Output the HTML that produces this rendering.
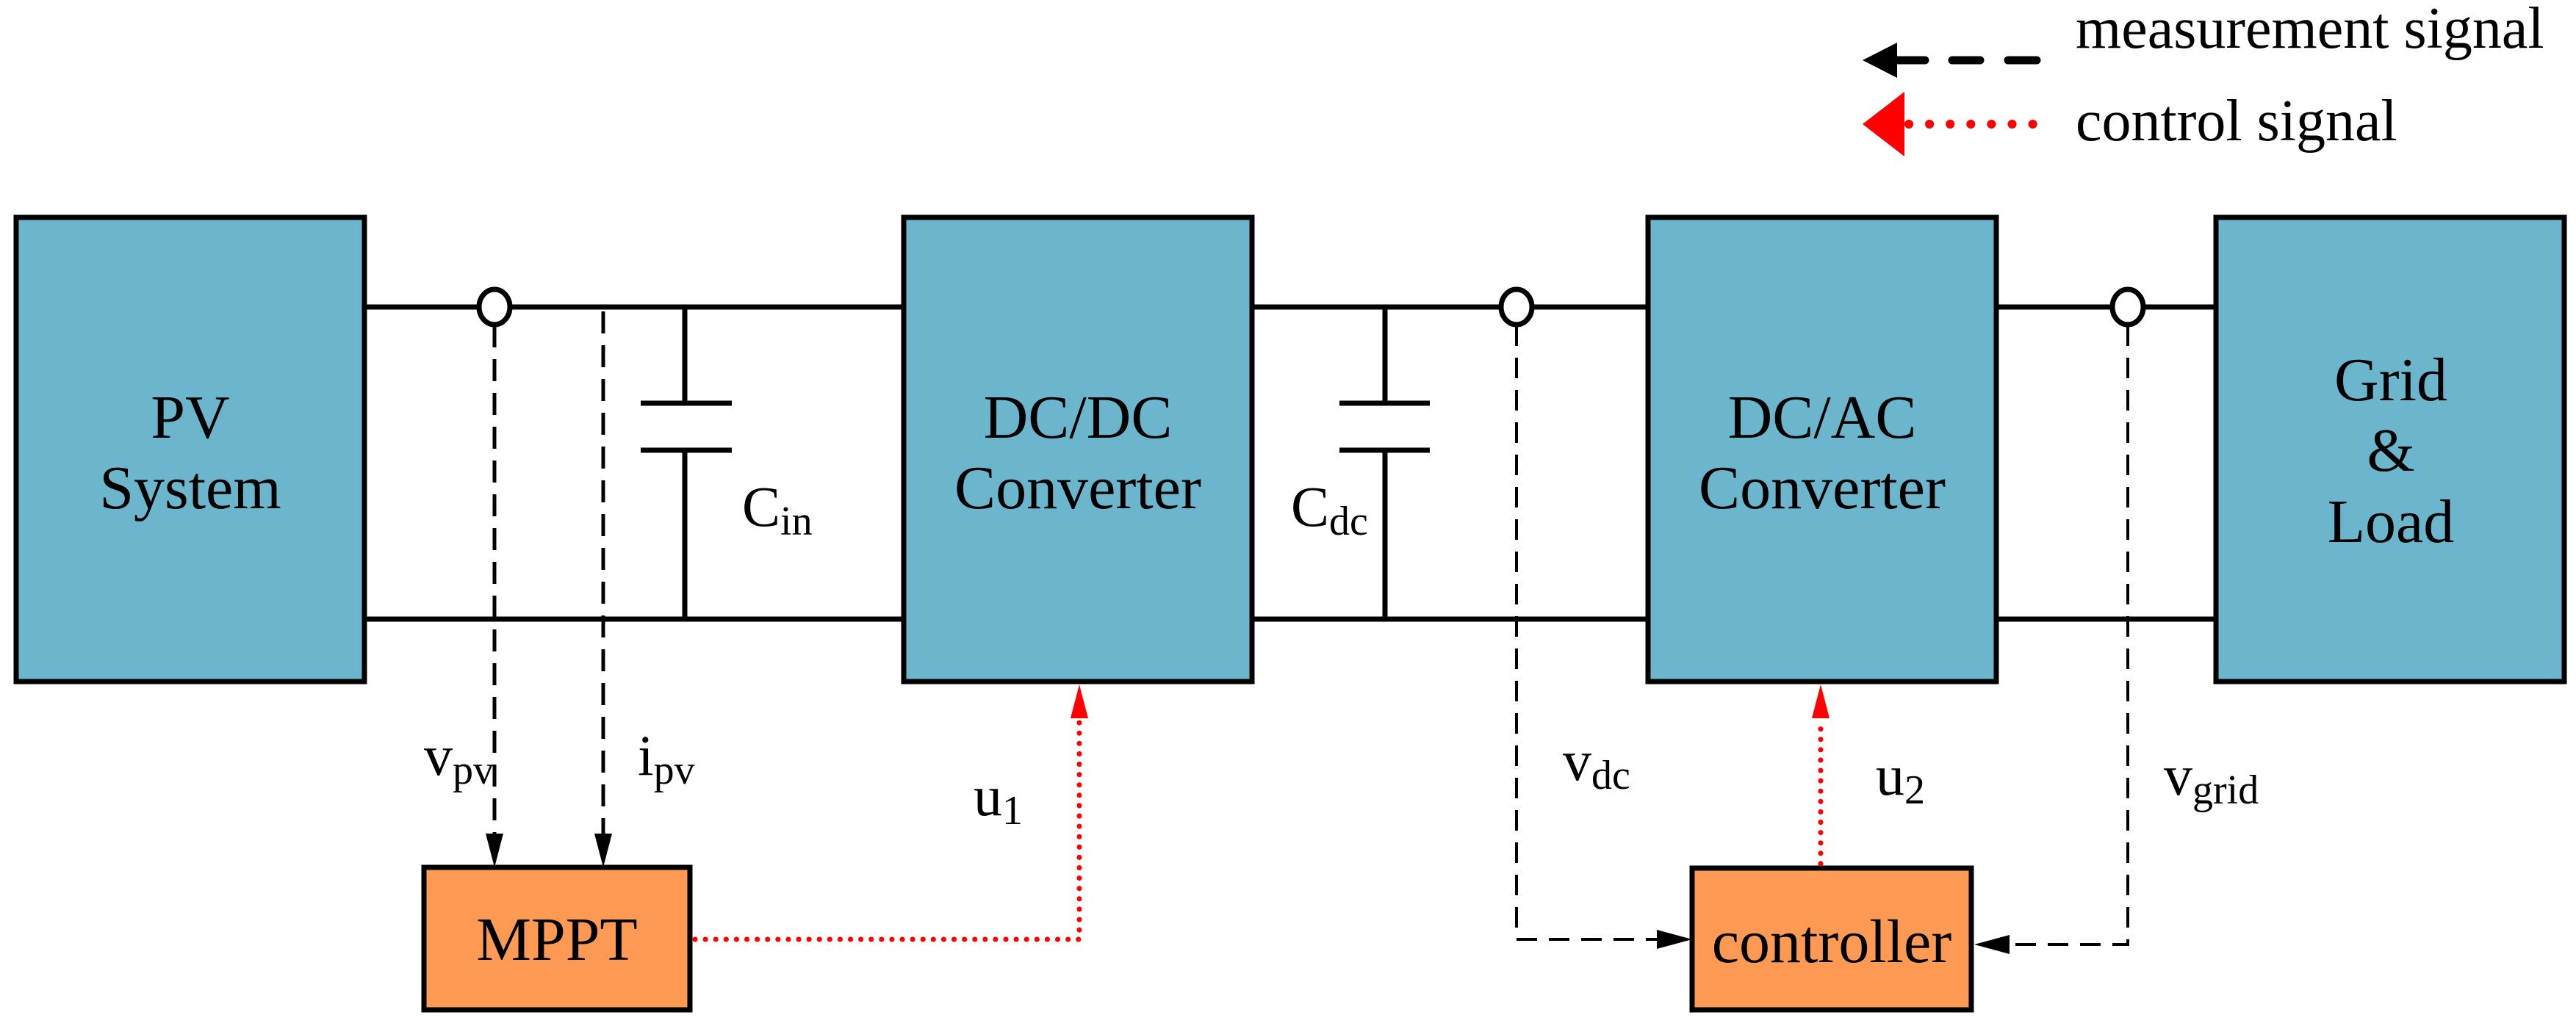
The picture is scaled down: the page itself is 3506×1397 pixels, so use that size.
<!DOCTYPE html>
<html><head><style>
html,body{margin:0;padding:0;background:#fff;}
svg{display:block;}
svg text, svg tspan{font-family:"Liberation Serif","DejaVu Serif",serif !important;}
</style></head><body>
<svg width="3506" height="1397" viewBox="0 0 3506 1397" xmlns="http://www.w3.org/2000/svg" font-family="'Liberation Serif', 'DejaVu Serif', serif">
<!-- wires -->
<g stroke="#000" stroke-width="7" fill="none">
<line x1="496" y1="418" x2="1230" y2="418"/>
<line x1="496" y1="843" x2="1230" y2="843"/>
<line x1="1704" y1="418" x2="2243" y2="418"/>
<line x1="1704" y1="843" x2="2243" y2="843"/>
<line x1="2717" y1="418" x2="3016" y2="418"/>
<line x1="2717" y1="843" x2="3016" y2="843"/>
<line x1="932" y1="418" x2="932" y2="549"/>
<line x1="932" y1="613" x2="932" y2="843"/>
<line x1="872" y1="549" x2="996" y2="549"/>
<line x1="872" y1="613" x2="996" y2="613"/>
<line x1="1885" y1="418" x2="1885" y2="549"/>
<line x1="1885" y1="613" x2="1885" y2="843"/>
<line x1="1823" y1="549" x2="1946" y2="549"/>
<line x1="1823" y1="613" x2="1946" y2="613"/>
</g>
<!-- boxes -->
<g stroke="#000" stroke-width="7">
<rect x="22" y="296" width="474" height="632" fill="#6BB6CC"/>
<rect x="1230" y="296" width="474" height="632" fill="#6BB6CC"/>
<rect x="2243" y="296" width="474" height="632" fill="#6BB6CC"/>
<rect x="3016" y="296" width="474" height="632" fill="#6BB6CC"/>
<rect x="577" y="1181" width="362" height="194" fill="#FF9A55"/>
<rect x="2303" y="1182" width="380" height="193" fill="#FF9A55"/>
</g>
<!-- measurement dashed -->
<g stroke="#000" fill="none">
<line x1="673" y1="443" x2="673" y2="1135" stroke-width="5" stroke-dasharray="30,16"/>
<line x1="821" y1="424" x2="821" y2="1135" stroke-width="5" stroke-dasharray="30,16"/>
<polyline points="2064,443 2064,1279 2255,1279" stroke-width="4" stroke-dasharray="28,16"/>
<polyline points="2896,443 2896,1286 2735,1286" stroke-width="4" stroke-dasharray="28,16"/>
</g>
<g fill="#000">
<polygon points="661,1135 685,1135 673,1181"/>
<polygon points="809,1135 833,1135 821,1181"/>
<polygon points="2255,1266 2255,1292 2303,1279"/>
<polygon points="2735,1273 2735,1299 2687,1286"/>
</g>
<!-- control dotted -->
<g stroke="#f00" fill="none" stroke-width="7" stroke-linecap="round" stroke-dasharray="0.1,14">
<polyline points="946,1279 1469,1279 1469,980"/>
<line x1="2478" y1="1176" x2="2478" y2="980"/>
</g>
<g fill="#f00">
<polygon points="1457,978 1481,978 1469,932"/>
<polygon points="2466,978 2490,978 2478,932"/>
</g>
<!-- nodes -->
<g stroke="#000" stroke-width="7" fill="#fff">
<ellipse cx="673" cy="418" rx="21" ry="24"/>
<ellipse cx="2064" cy="418" rx="21" ry="24"/>
<ellipse cx="2896" cy="418" rx="21" ry="24"/>
</g>
<!-- box labels -->
<g font-size="84" text-anchor="middle" fill="#000">
<text x="259" y="596">PV</text>
<text x="259" y="692">System</text>
<text x="1467" y="596">DC/DC</text>
<text x="1467" y="692">Converter</text>
<text x="2480" y="596">DC/AC</text>
<text x="2480" y="692">Converter</text>
<text x="3254" y="545">Grid</text>
<text x="3254" y="641">&amp;</text>
<text x="3254" y="738">Load</text>
<text x="758" y="1307">MPPT</text>
<text x="2493" y="1310">controller</text>
</g>
<!-- signal labels -->
<g font-size="78" fill="#000">
<text x="1010" y="716">C<tspan font-size="56" dy="12">in</tspan></text>
<text x="1757" y="716">C<tspan font-size="56" dy="12">dc</tspan></text>
<text x="577" y="1055">v<tspan font-size="56" dy="12">pv</tspan></text>
<text x="868" y="1055">i<tspan font-size="56" dy="12">pv</tspan></text>
<text x="1325" y="1110">u<tspan font-size="56" dy="12">1</tspan></text>
<text x="2127" y="1062">v<tspan font-size="56" dy="12">dc</tspan></text>
<text x="2553" y="1082">u<tspan font-size="56" dy="12">2</tspan></text>
<text x="2945" y="1082">v<tspan font-size="56" dy="12">grid</tspan></text>
</g>
<!-- legend -->
<polygon points="2535,82 2582,58 2582,106" fill="#000"/>
<g stroke="#000" stroke-width="11" stroke-linecap="round">
<line x1="2582" y1="82" x2="2620" y2="82"/>
<line x1="2657" y1="82" x2="2695" y2="82"/>
<line x1="2733" y1="82" x2="2772" y2="82"/>
</g>
<polygon points="2535,169 2592,125 2592,213" fill="#f00"/>
<g stroke="#f00" stroke-width="12" stroke-linecap="round" stroke-dasharray="0.1,28">
<line x1="2598" y1="169" x2="2775" y2="169"/>
</g>
<g font-size="80" fill="#000">
<text x="2825" y="65">measurement signal</text>
<text x="2825" y="191">control signal</text>
</g>
</svg>
</body></html>
